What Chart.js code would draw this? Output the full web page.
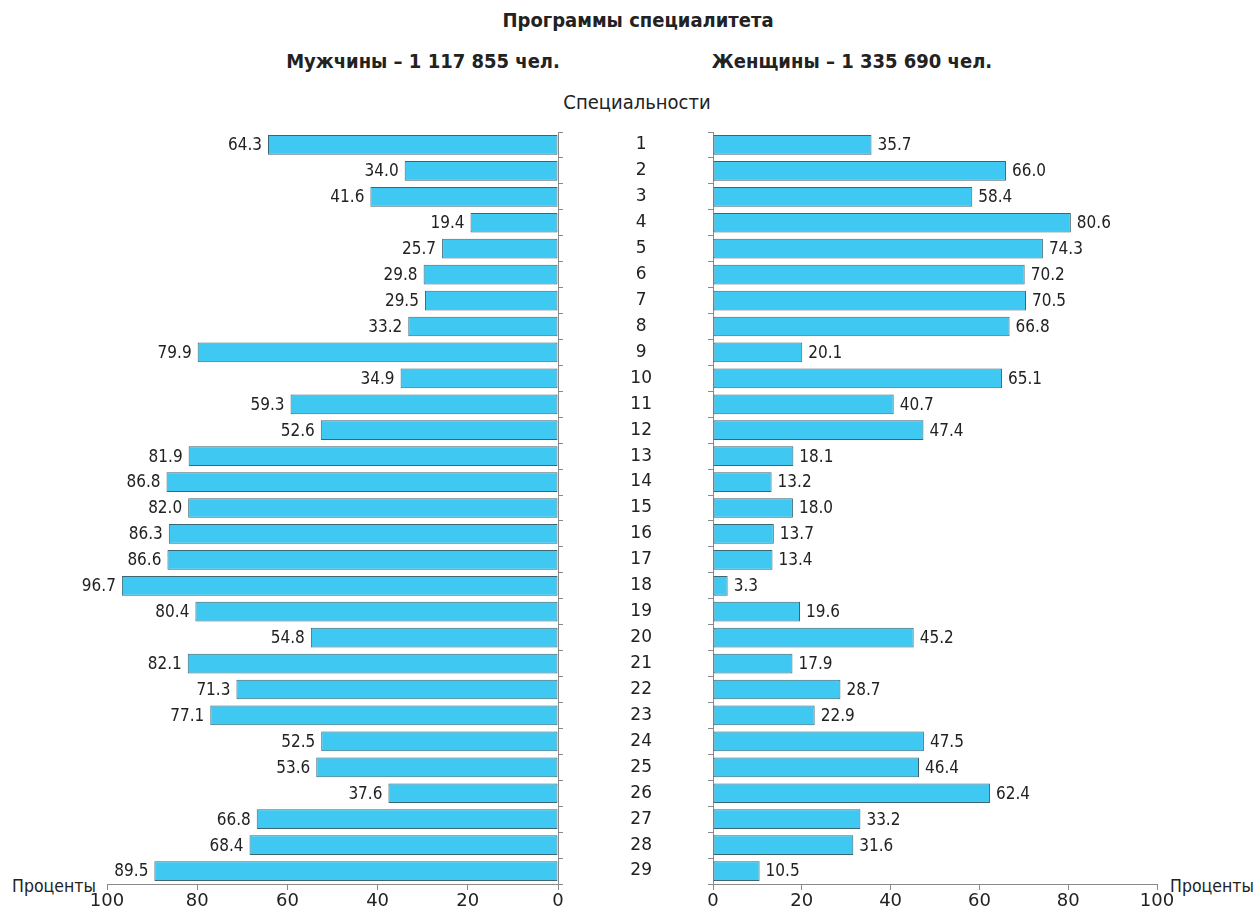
<!DOCTYPE html>
<html>
<head>
<meta charset="utf-8">
<script src="https://cdn.jsdelivr.net/npm/chart.js@4"></script>
<style>
  body { margin:0; background:#fff; width:1255px; height:911px; position:relative; overflow:hidden;
         font-family:'DejaVu Sans',sans-serif; font-stretch:condensed; color:#222; }
  .t { position:absolute; white-space:nowrap; transform:translate(-50%,-50%); }
  .b { font-weight:bold; font-size:20px; }
  canvas { position:absolute; top:0; }
</style>
</head>
<body>
<div class="t b" style="left:638px;top:20px">Программы специалитета</div>
<div class="t b" style="left:423px;top:61px">Мужчины – 1 117 855 чел.</div>
<div class="t b" style="left:852px;top:61px">Женщины – 1 335 690 чел.</div>
<div class="t" style="left:637px;top:102px;font-size:20px">Специальности</div>
<div class="t" style="left:54px;top:886px;font-size:17.5px">Проценты</div>
<div class="t" style="left:1212px;top:886px;font-size:17.5px">Проценты</div>

<canvas id="left" style="left:0"></canvas>
<canvas id="right" style="left:600px"></canvas>

<script>
// данные по специальностям, % от общего числа
const specialnosti = ['1','2','3','4','5','6','7','8','9','10','11','12','13','14','15','16','17','18','19','20','21','22','23','24','25','26','27','28','29'];
const muzhchiny = [64.3, 34.0, 41.6, 19.4, 25.7, 29.8, 29.5, 33.2, 79.9, 34.9, 59.3, 52.6, 81.9, 86.8, 82.0, 86.3, 86.6, 96.7, 80.4, 54.8, 82.1, 71.3, 77.1, 52.5, 53.6, 37.6, 66.8, 68.4, 89.5];
const zhenshchiny = [35.7, 66.0, 58.4, 80.6, 74.3, 70.2, 70.5, 66.8, 20.1, 65.1, 40.7, 47.4, 18.1, 13.2, 18.0, 13.7, 13.4, 3.3, 19.6, 45.2, 17.9, 28.7, 22.9, 47.5, 46.4, 62.4, 33.2, 31.6, 10.5];
const ticksX = [0, 20, 40, 60, 80, 100];

const FONT = "'DejaVu Sans',sans-serif";
const AXIS = '#8a8a8a';

// подписи значений у концов столбиков
const podpisi = {
    id: 'podpisi',
    afterDatasetsDraw(chart) {
        const ctx = chart.ctx;
        const meta = chart.getDatasetMeta(0);
        const rev = chart.options.scales.x.reverse;
        ctx.save();
        ctx.font = 'condensed 17px ' + FONT;
        ctx.fillStyle = '#222';
        ctx.textBaseline = 'middle';
        ctx.textAlign = rev ? 'right' : 'left';
        meta.data.forEach((bar, i) => {
            const v = chart.data.datasets[0].data[i];
            ctx.fillText(v.toFixed(1), bar.x + (rev ? -6 : 6), bar.y + 1);
        });
        ctx.restore();
    }
};

function sdelatGrafik(id, dannye, levyi, w) {
    const cv = document.getElementById(id);
    cv.width = w; cv.height = 911;
    cv.style.width = w + 'px'; cv.style.height = '911px';
    return new Chart(cv, {
        type: 'bar',
        data: {
            labels: specialnosti,
            datasets: [{
                data: dannye,
                backgroundColor: '#3fc8f2',
                borderColor: '#3d6673',
                borderWidth: 1,
                borderSkipped: false,
                barPercentage: 0.76,
                categoryPercentage: 1
            }]
        },
        options: {
            indexAxis: 'y',
            responsive: false,
            animation: false,
            layout: { padding: levyi ? { left: 107, right: 32, top: 132, bottom: 0 } : { left: 0, right: 98, top: 132, bottom: 0 } },
            plugins: { legend: { display: false }, tooltip: { enabled: false } },
            scales: {
                x: {
                    min: 0, max: 100,
                    reverse: levyi,
                    afterBuildTicks: s => { s.ticks = ticksX.map(v => ({ value: v })); },
                    afterFit: s => { s.height = 27; },
                    grid: { drawOnChartArea: false, color: AXIS, tickLength: 6 },
                    border: { color: AXIS },
                    ticks: { font: { family: FONT, size: 18, style: 'condensed' }, color: '#222', padding: 1, maxRotation: 0 }
                },
                y: {
                    position: levyi ? 'right' : 'left',
                    // ширину оси задаём руками, лишний отступ снизу убираем
                    afterFit: s => { s.width = levyi ? 10 : 113; s.paddingTop = 0; s.paddingBottom = 0; },
                    grid: { drawOnChartArea: false, color: AXIS, tickLength: 5, offset: true },
                    border: { color: AXIS },
                    ticks: levyi ? { display: false } : {
                        font: { family: FONT, size: 17, style: 'condensed' }, color: '#222',
                        crossAlign: 'center', padding: 56
                    }
                }
            }
        },
        plugins: [podpisi]
    });
}

sdelatGrafik('left', muzhchiny, true, 600);
sdelatGrafik('right', zhenshchiny, false, 655);
</script>
</body>
</html>
